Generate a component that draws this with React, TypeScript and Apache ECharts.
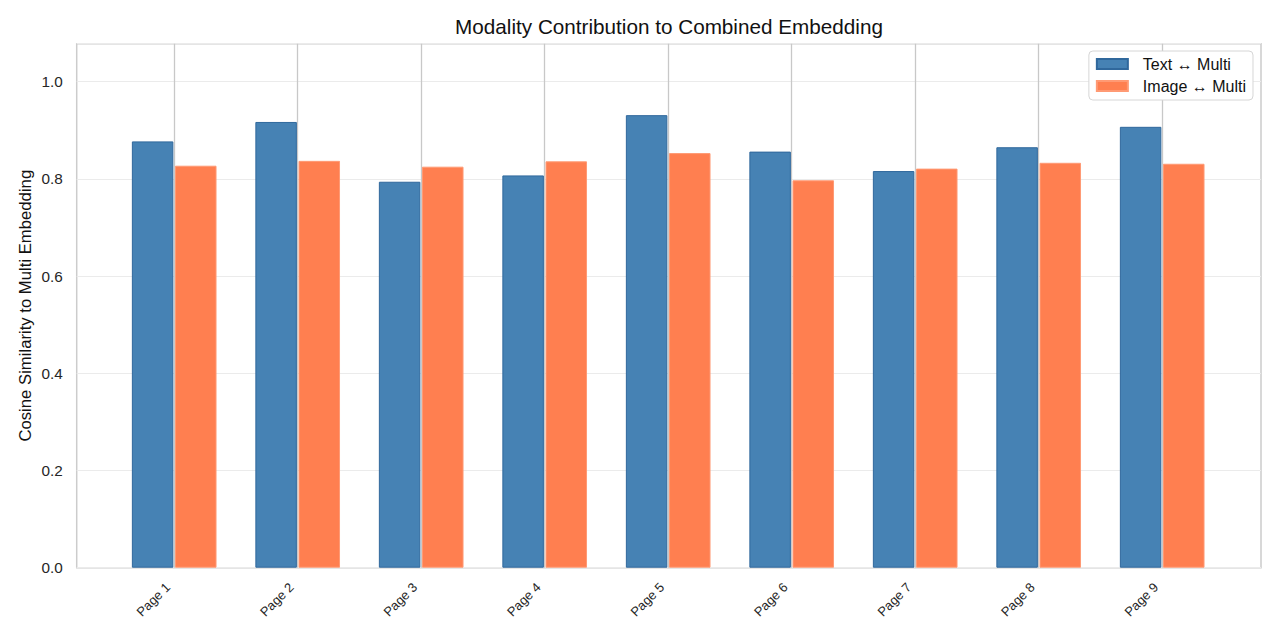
import * as echarts from "echarts";
import { useEffect, useRef } from "react";

const pages = ["Page 1", "Page 2", "Page 3", "Page 4", "Page 5", "Page 6", "Page 7", "Page 8", "Page 9"];
const textToMulti = [0.877, 0.917, 0.794, 0.807, 0.931, 0.856, 0.816, 0.865, 0.907];
const imageToMulti = [0.827, 0.837, 0.825, 0.836, 0.853, 0.797, 0.821, 0.833, 0.831];
const seriesNames = ["Text \u2194 Multi", "Image \u2194 Multi"];

const INK = "#262626";
const FONT = "'Liberation Sans', Arial, 'DejaVu Sans', sans-serif";
const Y_MAX = 1.078;

// plot frame in px
const FRAME = { left: 76.7, right: 19, top: 43.7, bottom: 72.3 };
const FIRST_CENTER = 174.2;
const STEP = 123.5;

export default function App() {
  const ref = useRef<HTMLDivElement>(null);

  useEffect(() => {
    document.body.style.margin = "0";
    const el = ref.current;
    if (!el) return;
    const chart = echarts.init(el, undefined, { renderer: "svg" });

    const barLeft = FIRST_CENTER - STEP / 2;
    const barRight = 1280 - (barLeft + STEP * pages.length);
    const lastCenter = FIRST_CENTER + STEP * (pages.length - 1);

    const hiddenY = (gridIndex: number) => ({
      type: "value" as const,
      gridIndex,
      min: 0,
      max: Y_MAX,
      show: false,
    });

    chart.setOption({
      animation: false,
      textStyle: { fontFamily: FONT },
      title: {
        text: "Modality Contribution to Combined Embedding",
        left: 664,
        top: 11,
        textAlign: "center",
        textStyle: { fontSize: 20.7, fontWeight: "normal", color: "#111", fontFamily: FONT },
      },
      legend: {
        orient: "vertical",
        right: 27,
        top: 51,
        data: seriesNames,
        icon: "rect",
        itemWidth: 31,
        itemHeight: 10,
        itemGap: 6,
        padding: [5, 7, 6, 7],
        backgroundColor: "#ffffff",
        borderColor: "#d6d6d6",
        borderWidth: 1,
        borderRadius: 4,
        textStyle: { fontSize: 16, color: "#111", fontFamily: FONT, padding: [0, 0, 0, 10] },
      },
      grid: [
        { ...FRAME, show: true, borderColor: "#cccccc", borderWidth: 1.5, backgroundColor: "transparent" },
        { left: barLeft, right: barRight, top: FRAME.top, bottom: FRAME.bottom },
        { left: FIRST_CENTER, right: 1280 - lastCenter, top: FRAME.top, bottom: FRAME.bottom },
      ],
      xAxis: [
        { type: "value", gridIndex: 0, show: false },
        {
          type: "category",
          gridIndex: 1,
          data: pages,
          axisLine: { show: false },
          axisTick: { show: false },
          splitLine: { show: false },
          axisLabel: {
            rotate: 45,
            margin: 11,
            fontSize: 13,
            color: INK,
            fontFamily: FONT,
            padding: [0, 9, 0, 0],
          },
        },
        {
          type: "category",
          gridIndex: 2,
          data: pages,
          boundaryGap: false,
          axisLine: { show: false },
          axisTick: { show: false },
          axisLabel: { show: false },
          splitLine: { show: true, lineStyle: { color: "#c8c8c8", width: 1.3 } },
        },
      ],
      yAxis: [
        {
          type: "value",
          gridIndex: 0,
          min: 0,
          max: Y_MAX,
          interval: 0.2,
          name: "Cosine Similarity to Multi Embedding",
          nameLocation: "middle",
          nameGap: 43,
          nameMoveOverlap: false,
          nameTextStyle: { fontSize: 16.7, color: "#111", fontFamily: FONT },
          axisLine: { show: false },
          axisTick: { show: false },
          showMaxLabel: false,
          axisLabel: {
            margin: 14,
            fontSize: 15.3,
            color: INK,
            fontFamily: FONT,
            formatter: (v: number) => (Math.abs(v / 0.2 - Math.round(v / 0.2)) < 1e-6 ? v.toFixed(1) : ""),
          },
          splitLine: { show: true, lineStyle: { color: "#ebebeb", width: 1 } },
        },
        hiddenY(1),
        hiddenY(2),
      ],
      series: [
        {
          name: seriesNames[0],
          type: "bar",
          xAxisIndex: 1,
          yAxisIndex: 1,
          data: textToMulti,
          barWidth: 41.5,
          barGap: "4%",
          itemStyle: { color: "#4682B4", borderColor: "#30689c", borderWidth: 1 },
        },
        {
          name: seriesNames[1],
          type: "bar",
          xAxisIndex: 1,
          yAxisIndex: 1,
          data: imageToMulti,
          barWidth: 41.5,
          barGap: "4%",
          itemStyle: { color: "#FF7F50", borderColor: "#ff9a74", borderWidth: 1 },
        },
      ],
    });

    return () => chart.dispose();
  }, []);

  return <div ref={ref} style={{ width: 1280, height: 640 }} />;
}
